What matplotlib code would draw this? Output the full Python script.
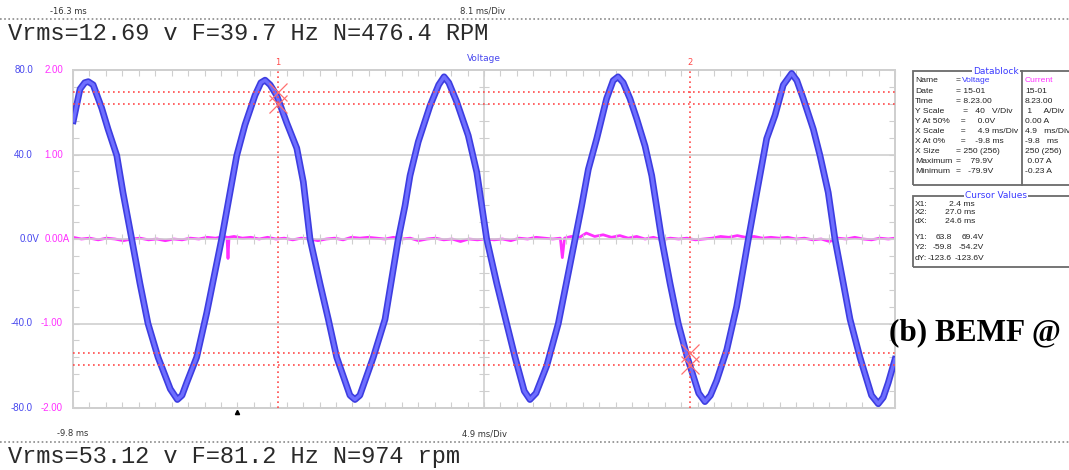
import numpy as np
import matplotlib
matplotlib.use('Agg')
import matplotlib.pyplot as plt
import matplotlib.ticker as ticker
from matplotlib import transforms
from matplotlib.lines import Line2D
from matplotlib.patches import Rectangle

# voltage trace (time in ms, volts)
t_volt = [-9.78, -9.38, -9.1, -8.89, -8.6, -8.09, -7.71, -7.19, -6.82, -6.30, -5.81, -5.33, -4.73, -4.0,
          -3.58, -3.3, -3.02, -2.43, -1.83, -0.94, -0.44, -0.04, 0.45, 1.05, 1.4, 1.65, 1.95, 2.34, 2.94,
          3.54, 3.93, 4.33, 4.92, 5.42, 5.92, 6.71, 7.01, 7.3, 8.10, 8.80, 9.59, 9.99, 10.29, 10.78, 11.48,
          12.0, 12.32, 12.6, 13.07, 13.76, 14.27, 14.86, 15.46, 16.05, 16.55, 17.1, 17.44, 17.8, 18.44,
          19.13, 20.13, 20.52, 20.92, 21.42, 22.01, 22.4, 22.69, 23.0, 23.40, 23.80, 24.30, 24.70, 25.29,
          25.79, 26.28, 26.82, 27.5, 27.87, 28.2, 28.57, 29.17, 29.76, 30.46, 30.96, 31.55, 32.05, 32.54,
          33.04, 33.35, 33.73, 34.33, 34.73, 35.22, 35.62, 36.12, 36.52, 37.11, 37.8, 38.20, 38.5, 38.80,
          39.2]
volt = [56, 71, 74, 74.5, 73, 62, 52, 39.5, 22, 0, -21, -40, -56, -71,
        -76, -74, -68, -56, -35, 0, 22, 39.5, 54, 68, 74, 75.2, 73, 68, 55,
        43, 27, 0, -21, -38, -56, -74, -76, -74, -56, -38, 0, 15.7, 30, 46, 63,
        73, 76.8, 74, 65, 49, 31.6, 0, -21, -40, -56, -72, -76, -73, -60,
        -40, 0, 15.7, 33, 47.5, 66.5, 75, 76.8, 74, 66.5, 57, 44, 30, 0,
        -21, -40, -56, -73, -77, -74, -67, -52.5, -32, 0, 22, 47.5, 58.6, 72.9,
        78.4, 75, 66.5, 52, 39.5, 22, 0, -21, -38, -56, -74, -78, -75, -68,
        -57]

# current trace (time in ms, amps)
t_cur = [-9.8, -9.3, -8.8, -8.3, -7.8, -7.3, -6.8, -6.3, -5.8, -5.3, -4.8, -4.3, -3.8, -3.3, -2.8, -2.3,
         -1.8, -1.3, -0.8, -0.62, -0.56, -0.50, -0.2, 0.3, 0.8, 1.3, 1.8, 2.3, 2.8, 3.3, 3.8, 4.3, 4.8,
         5.3, 5.8, 6.3, 6.8, 7.3, 7.8, 8.3, 8.8, 9.3, 9.8, 10.3, 10.8, 11.3, 11.8, 12.3, 12.8, 13.3, 13.8,
         14.3, 14.8, 15.3, 15.8, 16.3, 16.8, 17.3, 17.8, 18.3, 18.8, 19.25, 19.37, 19.5, 19.9, 20.4, 20.8,
         21.3, 21.8, 22.3, 22.8, 23.3, 23.8, 24.3, 24.8, 25.3, 25.8, 26.3, 26.8, 27.3, 27.8, 28.3, 28.8,
         29.3, 29.8, 30.3, 30.8, 31.3, 31.8, 32.3, 32.8, 33.3, 33.8, 34.3, 34.8, 35.3, 35.8, 36.3, 36.8,
         37.3, 37.8, 38.3, 38.8, 39.2]
cur = [0.02, 0.00, 0.01, -0.01, 0.01, 0.00, -0.02, 0.00, 0.01, -0.01, 0.00, -0.02, 0.00, -0.01, 0.01, 0.00,
       0.02, 0.01, 0.03, 0.02, -0.23, 0.02, 0.03, 0.01, 0.02, 0.00, 0.02, 0.00, 0.01, -0.01, 0.01, 0.00, -0.02,
       0.00, 0.01, -0.01, 0.02, 0.01, 0.02, 0.01, 0.00, 0.02, 0.00, 0.01, -0.02, 0.00, 0.01, -0.01, 0.00, -0.03, 0.00,
       -0.01, 0.00, -0.01, 0.00, -0.02, 0.01, 0.00, 0.02, 0.01, 0.00, 0.01, -0.22, 0.01, 0.03, 0.02, 0.07,
       0.03, 0.05, 0.02, 0.04, 0.01, 0.03, 0.00, 0.02, -0.01, 0.01, 0.00, 0.01, -0.01, 0.00, 0.01, 0.03,
       0.02, 0.04, 0.02, 0.03, 0.01, 0.02, 0.01, 0.02, 0.00, 0.01, -0.01, 0.00, -0.03, 0.01, 0.00, 0.02,
       0.00, -0.01, 0.01, 0.00, 0.01]

cursor_t = [2.4, 27.0]
cursor1_v = [69.4, 63.8]
cursor2_v = [-54.2, -59.8]

v_ticks = [80, 40, 0, -40, -80]
v_labels = ['80.0', '40.0', '0.0V', '-40.0', '-80.0']
a_ticks = [2, 1, 0, -1, -2]
a_labels = ['2.00', '1.00', '0.00A', '-1.00', '-2.00']

db_names = ['Name', 'Date', 'Time', 'Y Scale', 'Y At 50%', 'X Scale', 'X At 0%', 'X Size', 'Maximum', 'Minimum']
db_volt = ['=', '= 15-01', '= 8.23.00', '   =   40   V/Div', '  =     0.0V', '  =     4.9 ms/Div',
           '  =    -9.8 ms', '= 250 (256)', '=    79.9V', '=   -79.9V']
db_cur = ['Current', '15-01', '8.23.00', ' 1     A/Div', '0.00 A', '4.9   ms/Div', '-9.8   ms', '250 (256)',
          ' 0.07 A', '-0.23 A']
cv_names = ['X1:', 'X2:', 'dX:', 'Y1:', 'Y2:', 'dY:']
cv_col1 = ['2.4 ms', '27.0 ms', '24.6 ms', '63.8', '-59.8', '-123.6']
cv_col2 = ['', '', '', '69.4V', '-54.2V', '-123.6V']

W, H = 1069, 470
BLUE = '#4848ee'
MAG = '#ff30ff'
RED = '#ff4a4a'
GRID = '#cfcfcf'


def fx(x):
    return x / W


def fy(y):
    return 1 - y / H


fig = plt.figure(figsize=(W / 100, H / 100), dpi=100, facecolor='w')
ax = fig.add_axes([fx(73), fy(408), 822 / W, 338 / H])
ax2 = ax.twinx()
ax.set_zorder(ax2.get_zorder() + 1)
ax.patch.set_visible(False)

ax.set_xlim(-9.8, 39.2)
ax.set_ylim(-80, 80)
ax2.set_ylim(-2, 2)

ax.xaxis.set_major_locator(ticker.MultipleLocator(0.98))
ax.yaxis.set_major_locator(ticker.MultipleLocator(8))
ax.tick_params(direction='in', length=4, width=0.8, color=GRID, top=True, right=True,
               labelbottom=False, labelleft=False)
ax2.set_yticks([])
for a in (ax, ax2):
    for s in a.spines.values():
        s.set_color(GRID)
        s.set_linewidth(1.4)

# grid through the centre
for v in [40, 0, -40]:
    ax.axhline(v, color=GRID, lw=1.2, zorder=0)
ax.axvline(14.7, color=GRID, lw=1.2, zorder=0)
yt = np.arange(-72, 73, 8)
ax.plot([14.7] * len(yt), yt, ls='none', marker='_', ms=7, mew=0.8, color=GRID, zorder=0)
xt = np.arange(-9.8, 39.3, 0.98)
ax.plot(xt, [0] * len(xt), ls='none', marker='|', ms=7, mew=0.8, color=GRID, zorder=0)

# traces
ax2.plot(t_cur, cur, color=MAG, lw=2.0)
ax.plot(t_volt, volt, color='#3d3de0', lw=4.8, solid_joinstyle='round', zorder=3)
ax.plot(t_volt, volt, color='#6e6eff', lw=2.4, solid_joinstyle='round', zorder=4)

# cursors
for v in cursor1_v + cursor2_v:
    ax.axhline(v, color=RED, lw=1.2, ls=(0, (1, 2)), zorder=5)
for t, lab in zip(cursor_t, ['1', '2']):
    ax.axvline(t, color=RED, lw=1.2, ls=(0, (1, 2)), zorder=5)
    ax.text(t, 1.01, lab, transform=ax.get_xaxis_transform(), color=RED, fontsize=6,
            ha='center', va='bottom')
ax.plot([cursor_t[0]] * 2, cursor1_v, ls='none', marker='x', ms=13, mew=0.9, color='#ff7070', zorder=6)
ax.plot([cursor_t[1]] * 2, cursor2_v, ls='none', marker='x', ms=13, mew=0.9, color='#ff7070', zorder=6)

# trigger mark
ax.plot([0.0], [-0.012], transform=ax.get_xaxis_transform(), marker='^', ms=3, color='k', clip_on=False)

ax.text(0.5, 1.02, 'Voltage', transform=ax.transAxes, color=BLUE, fontsize=6.5, ha='center', va='bottom')

# left scale labels
tv = transforms.blended_transform_factory(fig.transFigure, ax.transData)
ta = transforms.blended_transform_factory(fig.transFigure, ax2.transData)
for v, lab in zip(v_ticks, v_labels):
    ax.text(fx(39 if lab.endswith('V') else 33), v, lab, transform=tv, color=BLUE, fontsize=7,
            ha='right', va='center', family='Liberation Sans')
for v, lab in zip(a_ticks, a_labels):
    ax.text(fx(70 if lab.endswith('A') else 63), v, lab, transform=ta, color=MAG, fontsize=7,
            ha='right', va='center', family='Liberation Sans')

# header / footer lines of the two captures
fig.text(fx(50), fy(11), '-16.3 ms', fontsize=6, color='#333333', va='center')
fig.text(fx(460), fy(11), '8.1 ms/Div', fontsize=6, color='#333333', va='center')
fig.add_artist(Line2D([0, 1], [fy(19), fy(19)], color='#8a8a8a', lw=1.2, ls=(0, (1, 1.5))))
fig.text(fx(8), fy(33), 'Vrms=12.69 v F=39.7 Hz N=476.4 RPM', family='Liberation Mono', fontsize=17,
         color='#2a2a2a', va='center')
fig.text(fx(57), fy(434), '-9.8 ms', fontsize=6, color='#333333', va='center')
fig.text(fx(462), fy(434), '4.9 ms/Div', fontsize=6, color='#333333', va='center')
fig.add_artist(Line2D([0, 1], [fy(442), fy(442)], color='#8a8a8a', lw=1.2, ls=(0, (1, 1.5))))
fig.text(fx(8), fy(456), 'Vrms=53.12 v F=81.2 Hz N=974 rpm', family='Liberation Mono', fontsize=17,
         color='#2a2a2a', va='center')
fig.text(fx(889), fy(333), '(b) BEMF @', family='Liberation Serif', fontweight='bold', fontsize=22.5,
         color='k', va='center')

# datablock
fig.add_artist(Rectangle((fx(913), fy(185)), (1080 - 913) / W, 114 / H, transform=fig.transFigure,
                         fill=False, ec='#6a6a6a', lw=1.3))
fig.add_artist(Line2D([fx(1022), fx(1022)], [fy(185), fy(71)], color='#6a6a6a', lw=1.3))
fig.text(fx(996), fy(71), 'Datablock', fontsize=6.5, color='#3a3aff', ha='center', va='center',
         bbox=dict(fc='w', ec='none', pad=0.8))
fs = 6.1
for i, (n, v, c) in enumerate(zip(db_names, db_volt, db_cur)):
    y = fy(81 + i * 10.1)
    fig.text(fx(915), y, n, fontsize=fs, color='#222222', va='center', family='Liberation Sans')
    fig.text(fx(956), y, v, fontsize=fs, color='#222222', va='center', family='Liberation Sans')
    fig.text(fx(1025), y, c, fontsize=fs, color=MAG if i == 0 else '#222222', va='center',
             family='Liberation Sans')
fig.text(fx(962), fy(81), 'Voltage', fontsize=fs, color='#3a3aff', va='center', family='Liberation Sans')

fig.add_artist(Rectangle((fx(913), fy(267)), (1080 - 913) / W, 71 / H, transform=fig.transFigure,
                         fill=False, ec='#6a6a6a', lw=1.3))
fig.text(fx(996), fy(196), 'Cursor Values', fontsize=6.5, color='#3a3aff', ha='center', va='center',
         bbox=dict(fc='w', ec='none', pad=0.8))
cv_y = [205, 213, 221.5, 238, 247, 259]
for i, (n, c1, c2) in enumerate(zip(cv_names, cv_col1, cv_col2)):
    y = fy(cv_y[i])
    fig.text(fx(915), y, n, fontsize=fs, color='#222222', va='center', family='Liberation Sans')
    fig.text(fx(975 if i < 3 else 952), y, c1, fontsize=fs, color='#222222', va='center', ha='right',
             family='Liberation Sans')
    if c2:
        fig.text(fx(984), y, c2, fontsize=fs, color='#222222', va='center', ha='right',
                 family='Liberation Sans')

fig.savefig('out.png', dpi=100, facecolor='w')
